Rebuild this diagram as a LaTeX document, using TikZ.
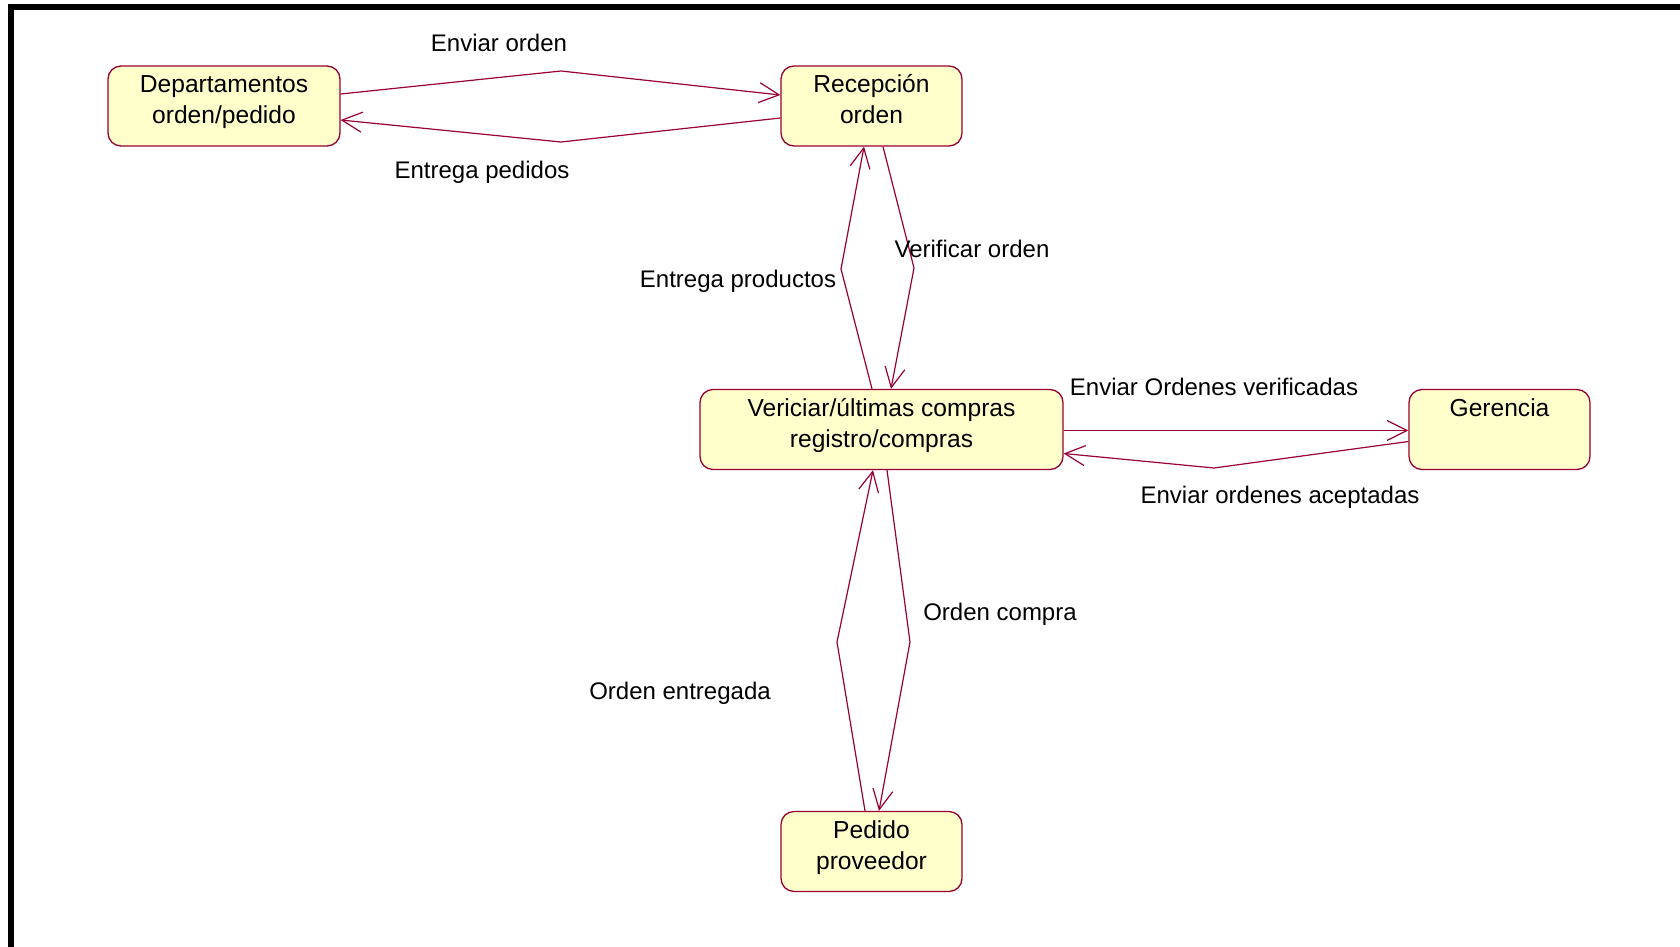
\documentclass[tikz,border=0pt]{standalone}
\usepackage{fontspec}
\setmainfont{Liberation Sans}
\usetikzlibrary{arrows.meta,calc}
\definecolor{roseline}{RGB}{153,0,51}
\definecolor{rosefill}{RGB}{255,255,204}
\tikzset{
  state/.style={draw=roseline, fill=rosefill, rounded corners=6.5pt, line width=0.65pt,
    align=center, inner sep=0pt, minimum height=40pt, text height=24.5pt, text depth=6.5pt,
    font=\fontsize{12.3}{15.5}\selectfont},
  trans/.style={draw=roseline, line width=0.6pt, -{Straight Barb[length=10pt,width=10pt]}},
  lbl/.style={font=\fontsize{12}{15.5}\selectfont, inner sep=0pt}
}
\begin{document}
\begin{tikzpicture}[x=0.5pt,y=-0.5pt]
\useasboundingbox (0,0) rectangle (1680,947);
% marco
\draw[line width=3pt] (11,947) -- (11,7) -- (1680,7);
% estados
\node[state, minimum width=116pt] (dep) at (224,106) {Departamentos\\orden/pedido};
\node[state, minimum width=90.5pt] (recep) at (871.5,106) {Recepción\\orden};
\node[state, minimum width=181.5pt] (verif) at (881.5,429.5) {Vericiar/últimas compras\\registro/compras};
\node[state, minimum width=90.5pt, text height=9pt, text depth=22pt] (ger) at (1499.5,429.5) {Gerencia};
\node[state, minimum width=90.5pt] (ped) at (871.5,851.5) {Pedido\\proveedor};
% transiciones
\draw[trans] ($(dep.east)+(0,-12)$) -- (561,71) -- ($(recep.west)+(0,-11)$);
\draw[trans] ($(recep.west)+(0,12)$) -- (561,142) -- ($(dep.east)+(0,14)$);
\draw[trans] ($(verif.north)+(-9.5,0)$) -- (841,269) -- ($(recep.south)+(-7.5,0)$);
\draw[trans] ($(recep.south)+(11.5,0)$) -- (914,268) -- ($(verif.north)+(9.5,0)$);
\draw[trans] ($(verif.east)+(0,1)$) -- ($(ger.west)+(0,1)$);
\draw[trans] ($(ger.west)+(0,12)$) -- (1214,468) -- ($(verif.east)+(0,24)$);
\draw[trans] ($(verif.south)+(5.5,0)$) -- (910,642) -- ($(ped.north)+(7.5,0)$);
\draw[trans] ($(ped.north)+(-6.5,0)$) -- (837,642) -- ($(verif.south)+(-8.5,0)$);
% etiquetas
\node[lbl] (l1) at (499,43) {Enviar orden};
\node[lbl] (l2) at (482,172) {Entrega pedidos};
\node[lbl] (l3) at (738,281) {Entrega productos};
\node[lbl] (l4) at (972,249) {Verificar orden};
\node[lbl] (l5) at (1214,387) {Enviar Ordenes verificadas};
\node[lbl] (l6) at (1280,497) {Enviar ordenes aceptadas};
\node[lbl] (l7) at (1000,614) {Orden compra};
\node[lbl] (l8) at (680,693) {Orden entregada};
\end{tikzpicture}
\end{document}
